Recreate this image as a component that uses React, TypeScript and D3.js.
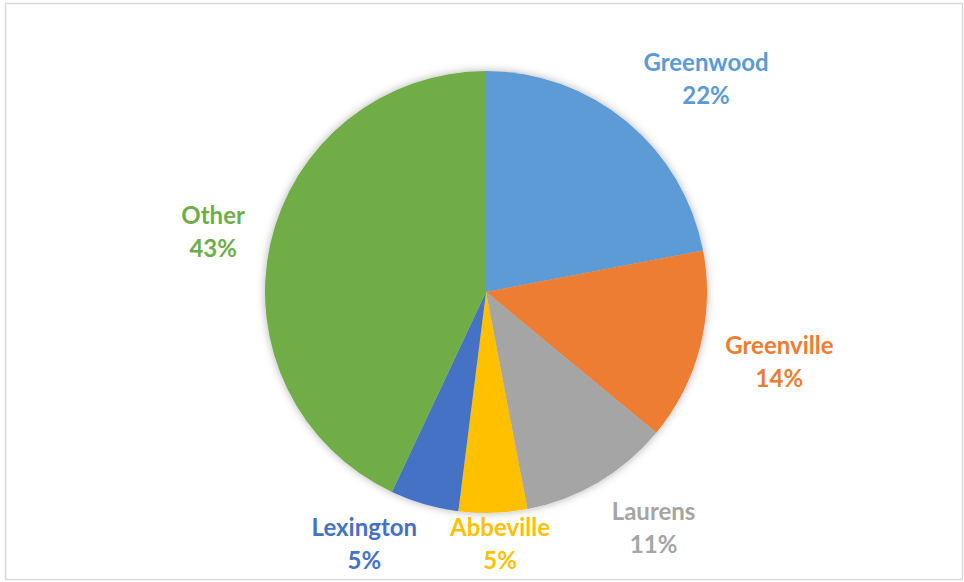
import * as d3 from "d3"

const counties = ["Greenwood", "Greenville", "Laurens", "Abbeville", "Lexington", "Other"]
const shares = [22, 14, 11, 5, 5, 43]
const colors = ["#5B9BD5", "#ED7D31", "#A5A5A5", "#FFC000", "#4472C4", "#70AD47"]

const width = 964
const height = 582
const cx = 486
const cy = 292
const radius = 221
const fontSize = 24
const lineH = 33
const font = `bold ${fontSize}px Lato, "Open Sans", sans-serif`

const measure = (() => {
  const ctx = document.createElement("canvas").getContext("2d")
  return (t: string) => {
    if (!ctx) return t.length * fontSize * 0.55
    ctx.font = font
    return ctx.measureText(t).width
  }
})()

const clamp = (v: number) => Math.max(-1, Math.min(1, v))

export default function App() {
  const total = d3.sum(shares)
  const pie = d3.pie<number>().sort(null).value((d) => d)
  const arcs = pie(shares)
  const arc = d3.arc<d3.PieArcDatum<number>>().innerRadius(0).outerRadius(radius)

  // outside-end labels: box is pushed out from the slice's mid angle
  const labels = arcs.map((a, i) => {
    const lines = [counties[i], `${Math.round((shares[i] / total) * 100)}%`]
    const w = d3.max(lines, measure) || 0
    const h = lines.length * lineH
    const mid = (a.startAngle + a.endAngle) / 2
    const px = cx + (radius + 26) * Math.sin(mid)
    const py = cy - (radius + 14) * Math.cos(mid)
    const fx = clamp(4 * Math.sin(mid))
    const fy = clamp(1.3 * Math.cos(mid))
    const left = px - (w * (1 - fx)) / 2
    let top = py - (h * (1 + fy)) / 2
    top = Math.min(top, height - 6 - h)
    return { lines, x: left + w / 2, top, color: colors[i] }
  })

  return (
    <svg
      width={width}
      height={height}
      style={{ position: "absolute", left: 0, top: 0, display: "block", background: "#fff" }}
    >
      <defs>
        <filter id="pie-shadow" x="-20%" y="-20%" width="140%" height="140%">
          <feDropShadow dx="0" dy="0" stdDeviation="4" floodColor="#000" floodOpacity="0.3" />
        </filter>
      </defs>
      <rect x={5.5} y={3.5} width={957} height={576} fill="#fff" stroke="#d9d9d9" strokeWidth={1.5} />
      <g transform={`translate(${cx},${cy})`} filter="url(#pie-shadow)">
        {arcs.map((a, i) => (
          <path key={counties[i]} d={arc(a) || ""} fill={colors[i]} />
        ))}
      </g>
      {labels.map((l) => (
        <text
          key={l.lines[0]}
          textAnchor="middle"
          fill={l.color}
          style={{ font }}
        >
          {l.lines.map((t, j) => (
            <tspan key={j} x={l.x} y={l.top + lineH * j + lineH / 2} dominantBaseline="central">
              {t}
            </tspan>
          ))}
        </text>
      ))}
    </svg>
  )
}
